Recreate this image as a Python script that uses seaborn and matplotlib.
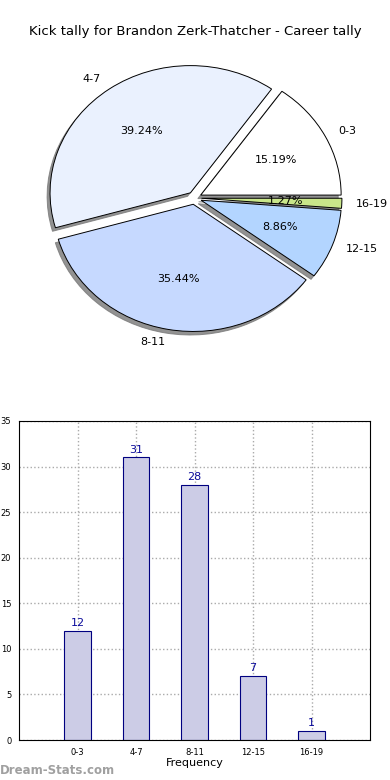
import matplotlib
matplotlib.use("Agg")
import matplotlib.pyplot as plt
import seaborn as sns
import pandas as pd

categories = ["0-3", "4-7", "8-11", "12-15", "16-19"]
counts = [12, 31, 28, 7, 1]
pie_colors = ["#ffffff", "#eaf1fe", "#c6d9ff", "#b3d5ff", "#c9e68a"]
title = "Kick tally for Brandon Zerk-Thatcher - Career tally"
xlabel = "Frequency"
ylabel = "Kick Tally"
yticks = [0, 5, 10, 15, 20, 25, 30, 35]

sns.set_style("white")
plt.rcParams['font.family'] = ['DejaVu Sans']
plt.rcParams['text.color'] = 'black'
plt.rcParams['axes.labelcolor'] = 'black'
plt.rcParams['xtick.color'] = 'black'
plt.rcParams['ytick.color'] = 'black'

fig = plt.figure(figsize=(3.9, 7.8), dpi=100)

# Pie
ax1 = fig.add_axes([19/390, 1 - 357/780, 351/390, 318/780])
wedges, texts, autotexts = ax1.pie(
    counts, labels=categories, colors=pie_colors, autopct="%1.2f%%",
    explode=[0.05] * len(counts),
    shadow={'ox': -0.015, 'oy': -0.02, 'color': '#777777', 'alpha': 0.8},
    startangle=0,
    wedgeprops=dict(edgecolor="black", linewidth=0.7),
    textprops=dict(fontsize=8, color="black"))
ax1.set_aspect("auto")
ax1.set_xlim(-1.25, 1.25)
ax1.set_ylim(-1.25, 1.25)
ax1.set_axis_off()
fig.text(0.5, 1 - 31/780, title, ha="center", va="center", fontsize=9.5, color="black")

# Bars
ax2 = fig.add_axes([19/390, 40/780, 351/390, 319/780])
df = pd.DataFrame({"cat": categories, "n": counts})
sns.barplot(data=df, x="cat", y="n", order=categories, width=0.45,
            color="#ccccE6", saturation=1, edgecolor="#000080", linewidth=0.8,
            ax=ax2, zorder=2)
for i, v in enumerate(counts):
    ax2.text(i, v + 0.3, str(v), ha="center", va="bottom", fontsize=8, color="#0a0a9a")
ax2.set_xlim(-1, 5)
ax2.set_ylim(0, 35)
ax2.set_yticks(yticks)
ax2.tick_params(axis="both", labelsize=6, length=2)
ax2.grid(True, linestyle=":", color="#aaaaaa", linewidth=1, zorder=0)
ax2.set_axisbelow(True)
ax2.set_xlabel(xlabel, fontsize=8, labelpad=1)
ax2.set_ylabel(ylabel, fontsize=8, labelpad=9)
for s in ax2.spines.values():
    s.set_color("black")
    s.set_linewidth(0.8)

fig.text(0.0, 1 - 771/780, "Dream-Stats.com", ha="left", va="center",
         fontsize=8.5, color="#a0a0a0", fontweight="bold")

fig.savefig("out.png", dpi=100)
